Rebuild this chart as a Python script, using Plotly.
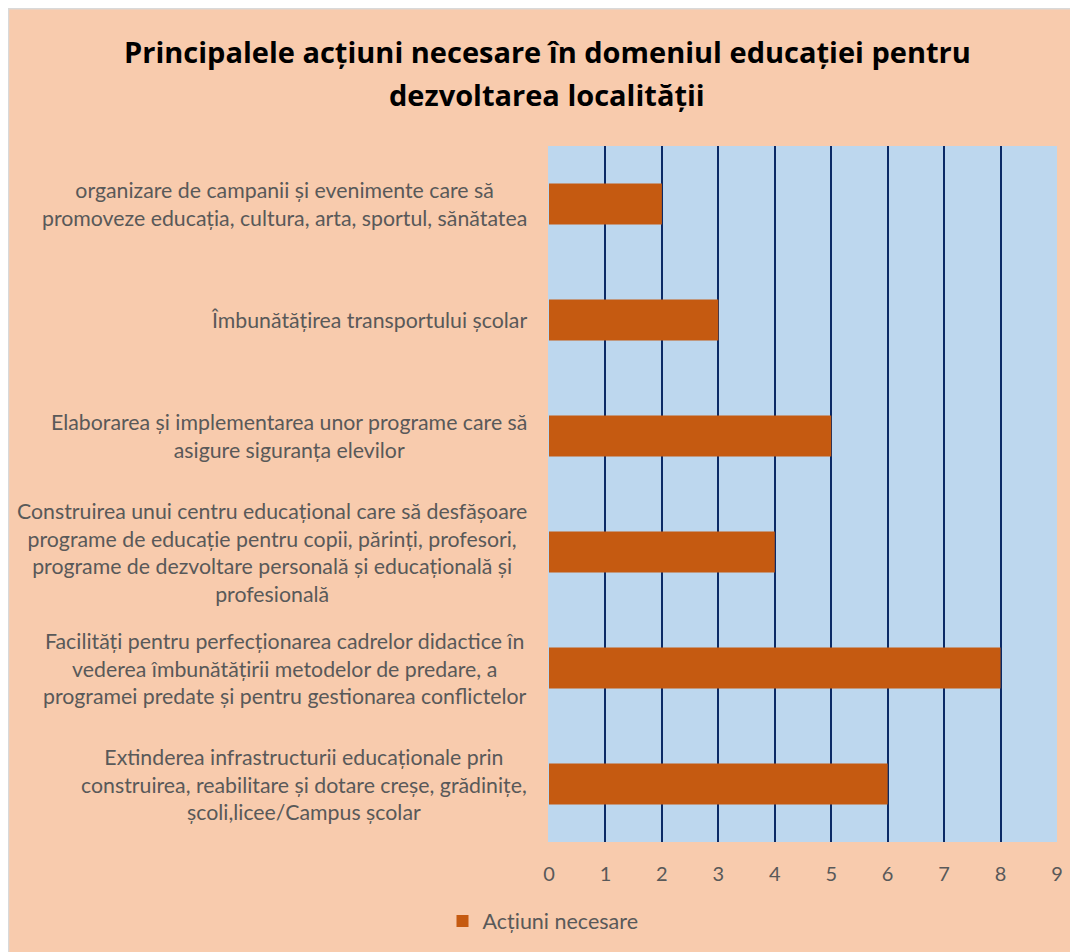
import plotly.graph_objects as go

categories = [
    "Extinderea infrastructurii educaționale prin<br>construirea, reabilitare și dotare creșe, grădinițe,<br>școli,licee/Campus școlar",
    "Facilități pentru perfecționarea cadrelor didactice în<br>vederea îmbunătățirii metodelor de predare, a<br>programei predate și pentru gestionarea conflictelor",
    "Construirea unui centru educațional care să desfășoare<br>programe de educație pentru copii, părinți, profesori,<br>programe de dezvoltare personală și educațională și<br>profesională",
    "Elaborarea și implementarea unor programe care să<br>asigure siguranța elevilor",
    "Îmbunătățirea transportului școlar",
    "organizare de campanii și evenimente care să<br>promoveze educația, cultura, arta, sportul, sănătatea",
]
values = [6, 8, 4, 5, 3, 2]
series_name = "Acțiuni necesare"
x_ticks = [0, 1, 2, 3, 4, 5, 6, 7, 8, 9]
title_lines = ["Principalele acțiuni necesare în domeniul educației pentru",
               "dezvoltarea localității"]

# page has an 8px body margin; figure is sized to fit the viewport
OFF = 8
W, H = 1078 - OFF, 952 - OFF
L = 549 - OFF
R = W - (1057 - OFF)
T = 146 - OFF
B = H - (843 - OFF)
PW, PH = W - L - R, H - T - B


def px_x(ref_px):
    return (ref_px - OFF - L) / PW


def px_y(ref_py):
    return (H - B - (ref_py - OFF)) / PH


LABEL_FONT = "Lato, Calibri, Carlito, sans-serif"
TITLE_FONT = "Open Sans, Calibri, sans-serif"
LABEL_COLOR = "#595959"
PEACH = "#F8CBAD"
PLOT_BG = "#BDD7EE"

fig = go.Figure()
fig.add_trace(go.Bar(
    x=values, y=categories, orientation="h", name=series_name,
    marker=dict(color="#C55A11", line=dict(width=0)),
    showlegend=True,
))

annotations = []
for cat in categories:
    annotations.append(dict(
        x=px_x(529), xref="paper", y=cat, yref="y",
        text=cat, showarrow=False, xanchor="right", yanchor="middle", align="center",
        font=dict(family=LABEL_FONT, size=21.3, color=LABEL_COLOR),
    ))

title_y = [51, 94]
for txt, ty in zip(title_lines, title_y):
    annotations.append(dict(
        x=px_x(547), xref="paper", y=px_y(ty), yref="paper",
        text=txt, showarrow=False, xanchor="center", yanchor="middle",
        font=dict(family=TITLE_FONT, size=29, color="black", weight="bold"),
    ))

shapes = [
    dict(type="line", xref="paper", yref="paper",
         x0=px_x(OFF), x1=px_x(1080), y0=px_y(OFF + 0.5), y1=px_y(OFF + 0.5),
         line=dict(color="#D9D9D9", width=1.5), layer="above"),
    dict(type="line", xref="paper", yref="paper",
         x0=px_x(OFF + 0.5), x1=px_x(OFF + 0.5), y0=px_y(OFF), y1=px_y(960),
         line=dict(color="#D9D9D9", width=1.5), layer="above"),
]

fig.update_layout(
    width=W, height=H,
    margin=dict(l=L, r=R, t=T, b=B, pad=0),
    paper_bgcolor=PEACH,
    plot_bgcolor=PLOT_BG,
    bargap=0.645,
    showlegend=True,
    legend=dict(orientation="h", x=px_x(543), xanchor="center", y=px_y(921), yanchor="middle",
                font=dict(family=LABEL_FONT, size=21.5, color=LABEL_COLOR), bgcolor="rgba(0,0,0,0)",
                itemwidth=30),
    annotations=annotations,
    shapes=shapes,
)
fig.update_xaxes(range=[0, 9], tickvals=x_ticks, showgrid=True, gridcolor="#0B2A66", gridwidth=2,
                 zeroline=True, zerolinecolor=PLOT_BG, zerolinewidth=2,
                 tickfont=dict(family=LABEL_FONT, size=20, color=LABEL_COLOR), ticks="",
                 ticklabelstandoff=18, showline=False, fixedrange=True)
fig.update_yaxes(showticklabels=False, showgrid=False, zeroline=False, showline=False, ticks="",
                 fixedrange=True)

fig.write_html("out.html")
